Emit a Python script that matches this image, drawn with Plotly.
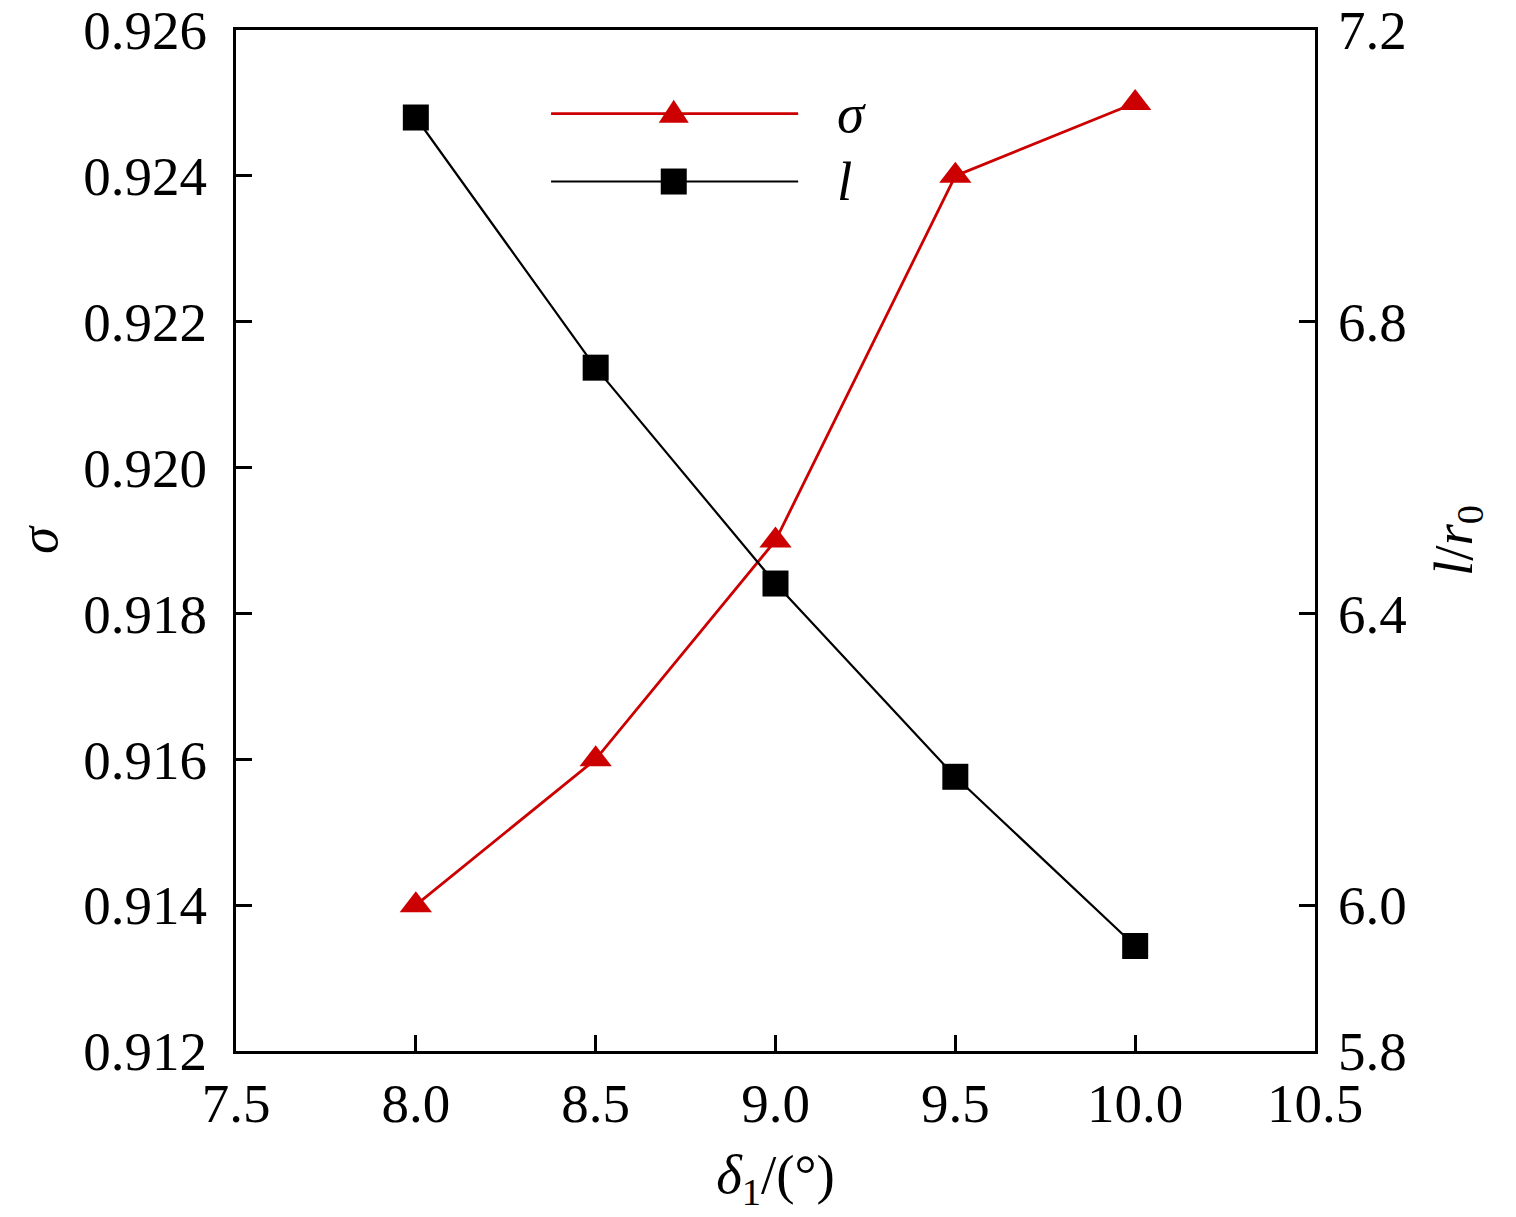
import plotly.graph_objects as go

# data
delta1 = [8.0, 8.5, 9.0, 9.5, 10.0]
sigma = [0.914, 0.916, 0.919, 0.924, 0.925]
l_r0 = [7.080, 6.737, 6.441, 6.176, 5.944]

x_ticks = [7.5, 8.0, 8.5, 9.0, 9.5, 10.0, 10.5]
y1_ticks = [0.912, 0.914, 0.916, 0.918, 0.920, 0.922, 0.924, 0.926]
y2_ticks = [5.8, 6.0, 6.4, 6.8, 7.2]

RED = "#cc0000"
BLACK = "#000000"
FONT = "Liberation Serif, Times New Roman, serif"
FS = 55

fig = go.Figure()

fig.add_trace(go.Scatter(
    x=delta1, y=sigma, name="σ", mode="lines+markers",
    line=dict(color=RED, width=2.8),
    marker=dict(symbol="triangle-up", size=28, color=RED),
    showlegend=False,
))
fig.add_trace(go.Scatter(
    x=delta1, y=l_r0, name="l", mode="lines+markers", yaxis="y2",
    line=dict(color=BLACK, width=2.2),
    marker=dict(symbol="square", size=26, color=BLACK),
    showlegend=False,
))

# hand-drawn legend (long sample lines like the original)
legend_items = [
    ("<i>σ</i>", RED, 2.8, 0.918, "M-15,-9 L15,-9 L0,14 Z"),
    ("<i>l</i>", BLACK, 2.2, 0.8516, "M-13,-13 L13,-13 L13,13 L-13,13 Z"),
]
shapes = []
annotations = []
for label, color, width, ypos, glyph in legend_items:
    shapes.append(dict(type="line", xref="paper", yref="paper",
                       x0=0.292, x1=0.521, y0=ypos, y1=ypos,
                       line=dict(color=color, width=width)))
    shapes.append(dict(type="path", xref="paper", yref="paper",
                       xsizemode="pixel", ysizemode="pixel",
                       xanchor=0.4057, yanchor=ypos, path=glyph,
                       fillcolor=color, line=dict(color=color, width=0)))
    annotations.append(dict(text=label, xref="paper", yref="paper",
                            x=0.555, y=ypos, xanchor="left", yanchor="middle",
                            showarrow=False,
                            font=dict(family=FONT, size=FS, color=BLACK)))

axis_common = dict(
    showline=True, linecolor=BLACK, linewidth=3,
    ticks="inside", ticklen=16, tickwidth=3, tickcolor=BLACK,
    showgrid=False, zeroline=False, automargin=False,
    ticklabeloverflow="allow",
    tickfont=dict(family=FONT, size=FS, color=BLACK),
)

fig.update_layout(
    width=1516, height=1217,
    margin=dict(l=228, r=209, t=22, b=174),
    paper_bgcolor="white", plot_bgcolor="white",
    font=dict(family=FONT, size=FS, color=BLACK),
    shapes=shapes, annotations=annotations,
    xaxis=dict(
        axis_common, range=[7.5, 10.5], tickvals=x_ticks,
        ticktext=[f"{v:.1f}" for v in x_ticks], mirror=True,
        ticklabelstandoff=2,
        title=dict(text="<i>δ</i><sub>1</sub>/(°)", standoff=22,
                   font=dict(family=FONT, size=FS, color=BLACK)),
    ),
    yaxis=dict(
        axis_common, range=[0.912, 0.926], tickvals=y1_ticks,
        ticktext=[f"{v:.3f}" for v in y1_ticks],
        ticklabelstandoff=15,
        title=dict(text="<i>σ</i>", standoff=24,
                   font=dict(family=FONT, size=FS, color=BLACK)),
    ),
    yaxis2=dict(
        axis_common, range=[5.8, 7.2], tickvals=y2_ticks,
        ticktext=[f"{v:.1f}" for v in y2_ticks],
        overlaying="y", side="right", ticklabelstandoff=9,
        title=dict(text="<i>l</i>/<i>r</i><sub>0</sub>", standoff=28,
                   font=dict(family=FONT, size=FS, color=BLACK)),
    ),
)

fig.write_html("out.html")
